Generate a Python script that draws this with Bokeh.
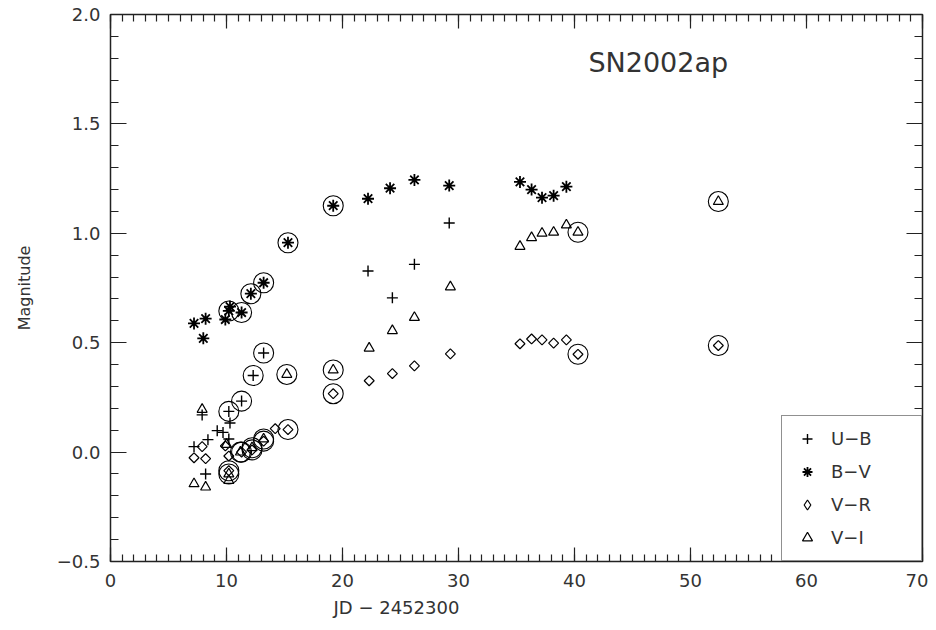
from bokeh.plotting import figure
from bokeh.models import (Range1d, LinearAxis, FixedTicker, Legend, LegendItem,
                          Title, Label, CustomJSTickFormatter)
from bokeh.embed import file_html
from bokeh.resources import INLINE
import numpy as np

# ---------------- data ----------------
ub_x = [7.2, 7.9, 8.4, 8.2, 9.2, 9.7, 10.2, 10.3, 10.2, 11.3, 12.3, 13.2, 22.2, 24.3, 26.2, 29.2]
ub_y = [0.025, 0.17, 0.057, -0.10, 0.098, 0.09, 0.06, 0.133, 0.186, 0.233, 0.35, 0.453, 0.828, 0.705, 0.858, 1.047]
ub_c = [0, 0, 0, 0, 0, 0, 0, 0, 1, 1, 1, 1, 0, 0, 0, 0]

bv_x = [7.2, 8.2, 8.0, 9.9, 10.2, 10.3, 11.3, 12.1, 13.2, 15.3, 19.2, 22.2, 24.1, 26.2, 29.2,
        35.3, 36.3, 37.2, 38.2, 39.3]
bv_y = [0.588, 0.61, 0.52, 0.606, 0.645, 0.665, 0.638, 0.724, 0.774, 0.957, 1.126, 1.158, 1.206, 1.244, 1.218,
        1.235, 1.2, 1.163, 1.172, 1.213]
bv_c = [0, 0, 0, 0, 1, 0, 1, 1, 1, 1, 1, 0, 0, 0, 0, 0, 0, 0, 0, 0]

vr_x = [7.9, 7.2, 8.2, 9.9, 10.2, 10.2, 11.3, 12.2, 13.2, 14.2, 15.3, 19.2, 22.3, 24.3, 26.2, 29.3,
        35.3, 36.3, 37.2, 38.2, 39.3, 40.3, 52.4]
vr_y = [0.025, -0.026, -0.03, 0.028, -0.018, -0.085, 0.0, 0.01, 0.05, 0.107, 0.103, 0.267, 0.326, 0.359, 0.394, 0.449,
        0.495, 0.517, 0.513, 0.498, 0.513, 0.447, 0.487]
vr_c = [0, 0, 0, 0, 0, 1, 1, 1, 1, 0, 1, 1, 0, 0, 0, 0, 0, 0, 0, 0, 0, 1, 1]

vi_x = [7.9, 7.2, 8.2, 10.0, 10.2, 10.2, 11.2, 12.2, 13.2, 15.2, 19.2, 22.3, 24.3, 26.2, 29.3,
        35.3, 36.3, 37.2, 38.2, 39.3, 40.3, 52.4]
vi_y = [0.195, -0.145, -0.16, 0.035, -0.10, -0.13, 0.0, 0.02, 0.06, 0.355, 0.375, 0.475, 0.555, 0.615, 0.755,
        0.94, 0.98, 1.0, 1.005, 1.038, 1.005, 1.145]
vi_c = [0, 0, 0, 0, 1, 0, 1, 1, 1, 1, 1, 0, 0, 0, 0, 0, 0, 0, 0, 0, 1, 1]

series_labels = ["U\u2212B", "B\u2212V", "V\u2212R", "V\u2212I"]
x_ticks = [0, 10, 20, 30, 40, 50, 60, 70]
y_ticks = [-0.5, 0.0, 0.5, 1.0, 1.5, 2.0]
title_text = "SN2002ap"
x_label = "JD \u2212 2452300"
y_label = "Magnitude"

FONT = "DejaVu Sans"
TXT = "#333333"
INK = "#222222"

# ---------------- figure ----------------
p = figure(width=928, height=622,
           x_range=Range1d(0, 70), y_range=Range1d(-0.5, 2.0),
           output_backend="svg", toolbar_location=None,
           min_border_left=110, min_border_right=6, min_border_top=14, min_border_bottom=56,
           background_fill_color="white", border_fill_color="white")
p.xgrid.visible = False
p.ygrid.visible = False
p.outline_line_color = INK
p.outline_line_width = 1.5

xt = FixedTicker(ticks=x_ticks, minor_ticks=list(range(0, 71)))
yt = FixedTicker(ticks=y_ticks, minor_ticks=[round(-0.5 + 0.1 * i, 2) for i in range(26)])

fmty = CustomJSTickFormatter(code="return tick.toFixed(1).replace('-', '\\u2212');")
fmtx = CustomJSTickFormatter(code="return tick.toFixed(0);")
blank = CustomJSTickFormatter(code="return '';")

def style_axis(ax, major_in, minor_in):
    ax.axis_line_color = None
    ax.major_tick_in = major_in
    ax.major_tick_out = 0
    ax.minor_tick_in = minor_in
    ax.minor_tick_out = 0
    ax.major_tick_line_color = INK
    ax.minor_tick_line_color = INK
    ax.major_tick_line_width = 1.2
    ax.minor_tick_line_width = 1.2

xa = p.xaxis[0]
xa.ticker = xt
xa.formatter = fmtx
style_axis(xa, 14, 7)
xa.major_label_text_font = FONT
xa.major_label_text_font_size = "18px"
xa.major_label_text_color = TXT
xa.major_label_standoff = 12

ya = p.yaxis[0]
ya.ticker = yt
ya.formatter = fmty
style_axis(ya, 16, 8)
ya.major_label_text_font = FONT
ya.major_label_text_font_size = "18px"
ya.major_label_text_color = TXT
ya.major_label_standoff = 10
ya.axis_label = y_label
ya.axis_label_text_font = FONT
ya.axis_label_text_font_size = "16px"
ya.axis_label_text_font_style = "normal"
ya.axis_label_text_color = TXT
ya.axis_label_standoff = 20

top = LinearAxis(ticker=xt, formatter=blank, major_label_standoff=0)
style_axis(top, 14, 7)
p.add_layout(top, "above")
right = LinearAxis(ticker=yt, formatter=blank, major_label_standoff=0)
style_axis(right, 16, 8)
p.add_layout(right, "right")

p.add_layout(Title(text=x_label, align="left", offset=223, text_font=FONT,
                   text_font_size="18px", text_font_style="normal", text_color=TXT), "below")

# ---------------- data marks ----------------
def circ(xs, ys, cs):
    return [x for x, c in zip(xs, cs) if c], [y for y, c in zip(ys, cs) if c]

r_ub = p.scatter(ub_x, ub_y, marker="cross", size=11, line_color="black", line_width=1.4)
r_bv = p.scatter(bv_x, bv_y, marker="asterisk", size=12, line_color="black", line_width=1.8)
p.scatter(vr_x, vr_y, marker="square", angle=np.pi / 4, size=7, line_color="black",
          fill_color=None, line_width=1.2)
r_vi = p.scatter(vi_x, vi_y, marker="triangle", size=10, line_color="black",
                 fill_color=None, line_width=1.2)
# legend swatch for V-R (the legend ignores marker angle); zero size in the plot itself
r_vr_leg = p.scatter(vr_x, vr_y, marker="diamond", size=0, line_color="black",
                     fill_color=None, line_width=1.2)

for xs, ys, cs in [(ub_x, ub_y, ub_c), (bv_x, bv_y, bv_c), (vr_x, vr_y, vr_c), (vi_x, vi_y, vi_c)]:
    cx, cy = circ(xs, ys, cs)
    p.scatter(cx, cy, marker="circle", size=20, line_color="black", fill_color=None, line_width=1.1)

p.add_layout(Label(x=41.2, y=1.71, text=title_text, text_font=FONT, text_font_size="27px",
                   text_color=TXT))

legend = Legend(items=[LegendItem(label=series_labels[0], renderers=[r_ub]),
                       LegendItem(label=series_labels[1], renderers=[r_bv]),
                       LegendItem(label=series_labels[2], renderers=[r_vr_leg]),
                       LegendItem(label=series_labels[3], renderers=[r_vi])],
                location="bottom_right", margin=0, padding=10, spacing=8,
                glyph_width=30, glyph_height=25, label_height=25, label_width=80,
                label_standoff=9, border_line_color=INK, border_line_width=1.5,
                label_text_font=FONT, label_text_font_size="18px", label_text_color=TXT,
                background_fill_color="white", background_fill_alpha=1.0)
p.add_layout(legend)

open("out.html", "w").write(file_html(p, INLINE))
